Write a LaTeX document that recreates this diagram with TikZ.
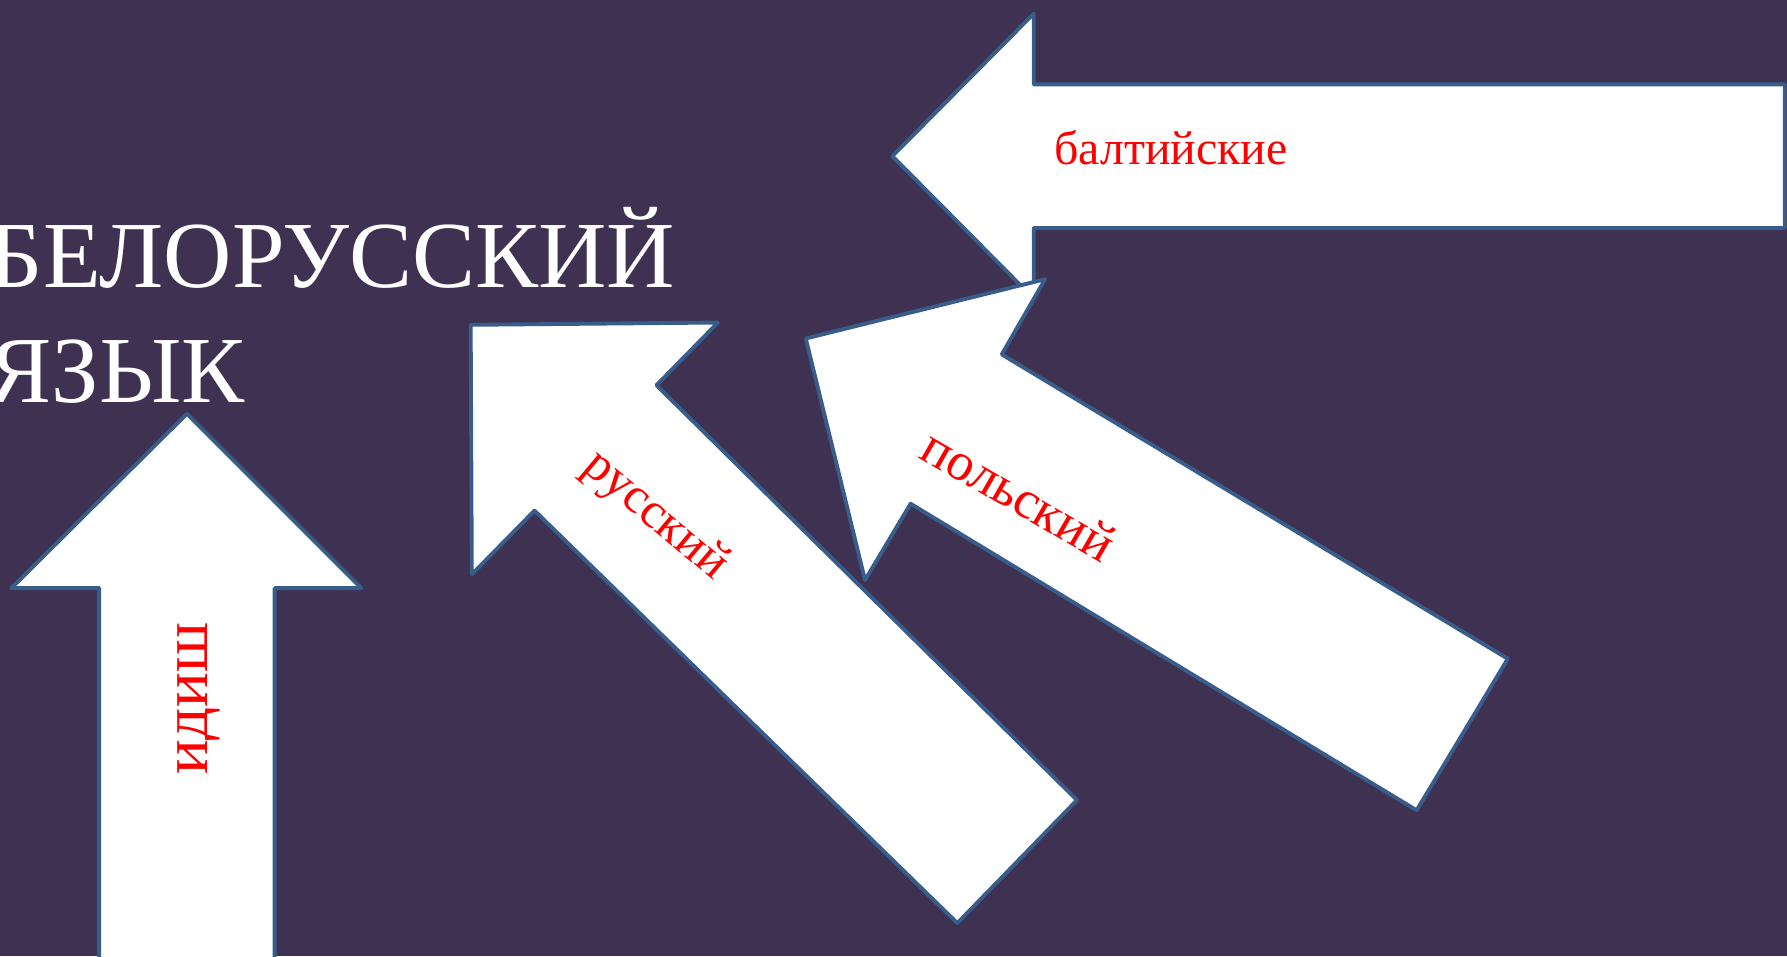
\documentclass[tikz,border=0pt]{standalone}
\usepackage{fontspec}
\setmainfont{Liberation Serif}
\definecolor{bgpurple}{RGB}{63,49,81}
\definecolor{edgeblue}{RGB}{56,93,138}
\begin{document}
\begin{tikzpicture}[x=1pt,y=-1pt,
  arrowshape/.style={fill=white,draw=edgeblue,line width=3.4pt,line join=round},
  redlabel/.style={text=red,inner sep=0pt},
  titletext/.style={text=white,inner sep=0pt,font=\fontsize{83}{100}\selectfont},
]
\useasboundingbox (0,0) rectangle (1568,839);
\fill[bgpurple] (0,0) rectangle (1568,839);
\begin{scope}
\clip (0,0) rectangle (1568,839);
% baltic arrow
\draw[arrowshape] (783,137) -- (907,12) -- (907,74) -- (1566,74) -- (1566,200) -- (907,200) -- (907,262) -- cycle;
% yiddish arrow
\draw[arrowshape] (164,363) -- (317,516) -- (241,516) -- (241,848) -- (87,848) -- (87,516) -- (10,516) -- cycle;
% russian arrow
\draw[arrowshape] (413,285) -- (630,283) -- (576,338) -- (945,702) -- (840,810) -- (469,448) -- (414,504) -- cycle;
% polish arrow
\draw[arrowshape] (707,297) -- (917,245) -- (879,311) -- (1323,578) -- (1243,711) -- (799,442) -- (759,509) -- cycle;
% texts
\node[titletext,anchor=base west] (bel1) at (-10,252) {БЕЛОРУССКИЙ};
\node[titletext,anchor=base west] (bel2) at (-10,353) {ЯЗЫК};
\node[redlabel,font=\fontsize{42}{50}\selectfont,anchor=base west] (balt) at (925,144) {балтийские};
\node[redlabel,font=\fontsize{57}{60}\selectfont,rotate=90,anchor=base] (idish) at (182,613) {идиш};
\node[redlabel,font=\fontsize{44}{50}\selectfont,rotate=-40] (rus) at (575,453) {русский};
\node[redlabel,font=\fontsize{47}{50}\selectfont,rotate=-30] (pol) at (894,434) {польский};
\end{scope}
\end{tikzpicture}
\end{document}
